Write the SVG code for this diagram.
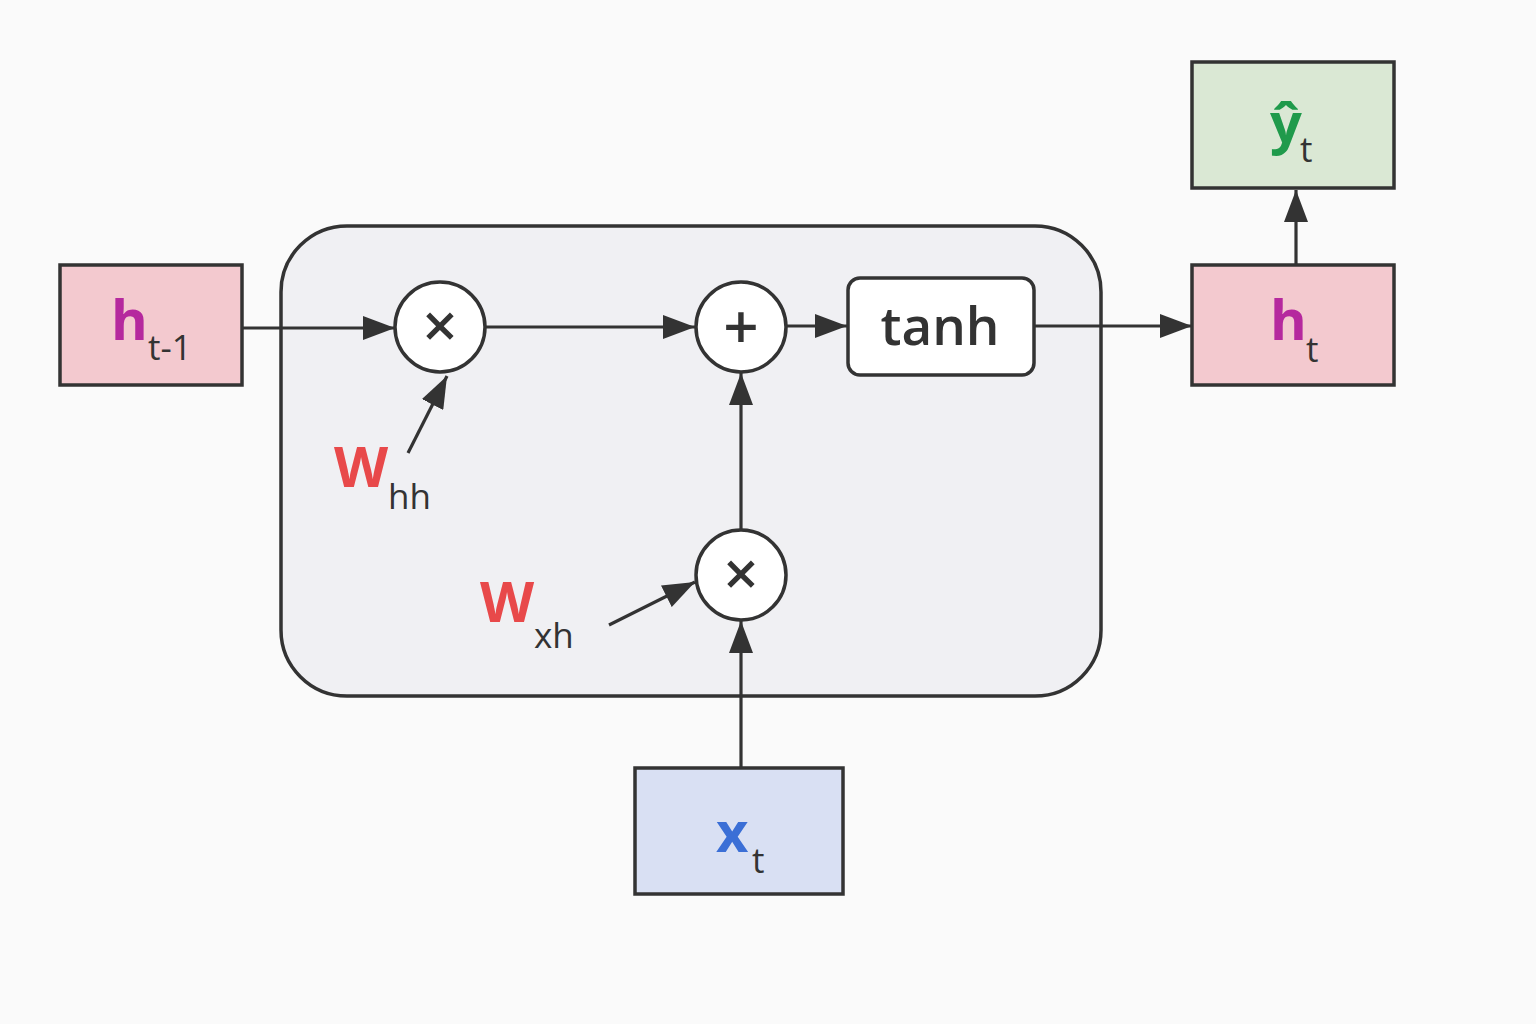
<svg xmlns="http://www.w3.org/2000/svg" width="1536" height="1024" viewBox="0 0 1536 1024">
<defs>
<style>
.box{stroke:#333;stroke-width:3.5}
.op{fill:#fff;stroke:#333;stroke-width:3.5}
.ln{stroke:#333;stroke-width:3.2;fill:none}
.main{font-family:"Open Sans","Liberation Sans",sans-serif;font-weight:700;font-size:56px}
.sub{font-family:"Open Sans","Liberation Sans",sans-serif;font-size:35px;font-weight:500;fill:#333}
.sym{font-family:"Open Sans","Liberation Sans",sans-serif;font-size:62px;font-weight:600;fill:#333;text-anchor:middle}
</style>
<marker id="ah" viewBox="0 0 32 24" refX="32" refY="12" markerWidth="32" markerHeight="24" markerUnits="userSpaceOnUse" orient="auto">
<path d="M0,0 L32,12 L0,24 z" fill="#333"/>
</marker>
</defs>
<rect width="1536" height="1024" fill="#fafafa"/>
<g id="cell">
<rect x="281" y="226" width="820" height="470" rx="66" fill="#f0f0f3" class="box"/>
</g>
<g id="connectors">
<line class="ln" x1="242" y1="328" x2="395" y2="328" marker-end="url(#ah)"/>
<line class="ln" x1="485" y1="327" x2="695" y2="327" marker-end="url(#ah)"/>
<line class="ln" x1="787" y1="326" x2="847" y2="326" marker-end="url(#ah)"/>
<line class="ln" x1="1034" y1="326" x2="1192" y2="326" marker-end="url(#ah)"/>
<line class="ln" x1="1296" y1="265" x2="1296" y2="190" marker-end="url(#ah)"/>
<line class="ln" x1="741" y1="768" x2="741" y2="621" marker-end="url(#ah)"/>
<line class="ln" x1="741" y1="529" x2="741" y2="373" marker-end="url(#ah)"/>
<line class="ln" x1="408" y1="453" x2="447" y2="376" marker-end="url(#ah)"/>
<line class="ln" x1="609" y1="625" x2="695" y2="582" marker-end="url(#ah)"/>
</g>
<g id="h_prev">
<rect x="60" y="265" width="182" height="120" fill="#f3c9cf" class="box"/>
<text x="111" y="340" class="main" fill="#b5289e">h</text>
<text x="148" y="360" class="sub">t-1</text>
</g>
<g id="mul_hh">
<circle cx="440" cy="327" r="45" class="op"/>
<text x="440" y="348" class="sym">×</text>
</g>
<g id="w_hh">
<text x="334" y="487" class="main" fill="#e8494a">W</text>
<text x="388" y="509" class="sub">hh</text>
</g>
<g id="add">
<circle cx="741" cy="327" r="45" class="op"/>
<text x="741" y="349" class="sym">+</text>
</g>
<g id="tanh">
<rect x="848" y="278" width="186" height="97" rx="12" class="op"/>
<text x="940" y="345" text-anchor="middle" style="font-family:'Open Sans','Liberation Sans',sans-serif;font-size:53px;font-weight:600;fill:#333">tanh</text>
</g>
<g id="mul_xh">
<circle cx="741" cy="575" r="45" class="op"/>
<text x="741" y="596" class="sym">×</text>
</g>
<g id="w_xh">
<text x="480" y="622" class="main" fill="#e8494a">W</text>
<text x="534" y="648" class="sub">xh</text>
</g>
<g id="x_t">
<rect x="635" y="768" width="208" height="126" fill="#d9e0f3" class="box"/>
<text x="716" y="852" class="main" fill="#3b6fd6">x</text>
<text x="752" y="873" class="sub">t</text>
</g>
<g id="h_t">
<rect x="1192" y="265" width="202" height="120" fill="#f3c9cf" class="box"/>
<text x="1270" y="340" class="main" fill="#b5289e">h</text>
<text x="1306" y="362" class="sub">t</text>
</g>
<g id="y_hat">
<rect x="1192" y="62" width="202" height="126" fill="#dae8d4" class="box"/>
<text x="1270" y="143" class="main" fill="#1f9a4b">ŷ</text>
<text x="1300" y="162" class="sub">t</text>
</g>
</svg>
